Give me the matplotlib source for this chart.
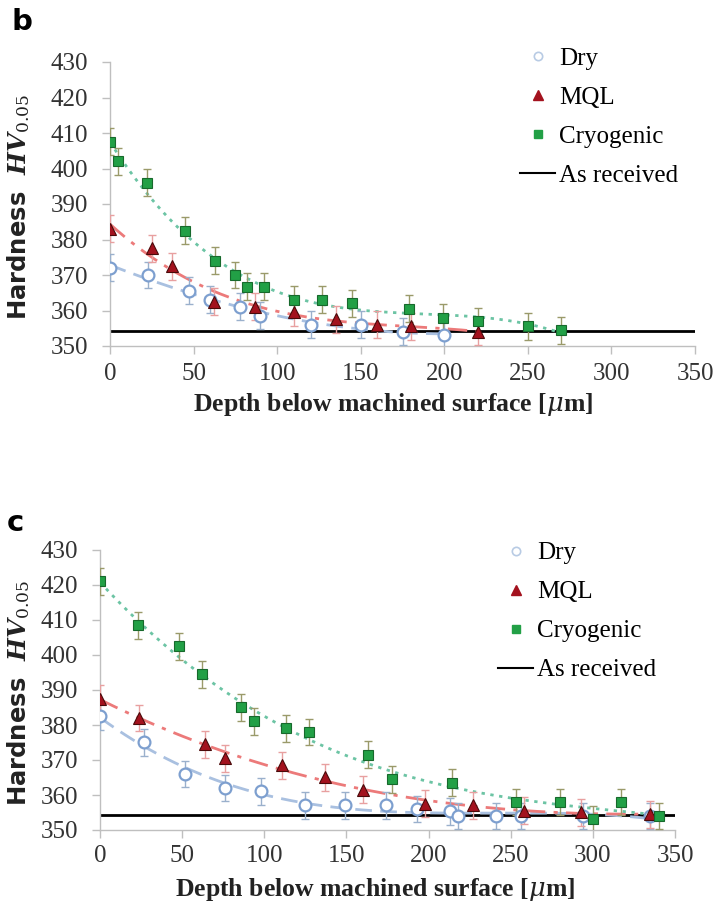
import numpy as np
import matplotlib
matplotlib.use("Agg")
import matplotlib.pyplot as plt
from matplotlib.lines import Line2D

plt.rcParams['mathtext.fontset'] = 'dejavuserif'

# panel b
b_dry_x = [0, 23, 47, 60, 78, 90, 120, 150, 175, 200]
b_dry_y = [372, 370, 365.5, 363, 361, 358.5, 356, 356, 354, 353]
b_mql_x = [0, 25, 37, 62, 87, 110, 135, 160, 180, 220]
b_mql_y = [383, 377.5, 372.5, 362.5, 361, 359.5, 357.5, 356, 355.5, 354]
b_cryo_x = [0, 5, 22, 45, 63, 75, 82, 92, 110, 127, 145, 179, 199, 220, 250, 270]
b_cryo_y = [407.5, 402, 396, 382.5, 374, 370, 366.7, 366.7, 363, 363, 362, 360.5,
            358, 357, 355.5, 354.5]
b_received = 354.3

# panel c
c_dry_x = [0, 27, 52, 76, 98, 125, 149, 174, 193, 213, 218, 241, 256, 294, 335]
c_dry_y = [382.5, 375, 366, 362, 361, 357, 357, 357, 356, 355.3, 354, 354, 354, 354, 354]
c_mql_x = [0, 24, 64, 76, 111, 137, 160, 198, 227, 258, 293, 335]
c_mql_y = [387.5, 382, 374.5, 370.5, 368.5, 365, 361.5, 357.5, 357, 355.5, 355, 354.5]
c_cryo_x = [0, 23, 48, 62, 86, 94, 113, 127, 163, 178, 214, 253, 280, 300, 317, 340]
c_cryo_y = [421, 408.5, 402.5, 394.5, 385, 381, 379, 378, 371.5, 364.5, 363.5, 358,
            358, 353, 358, 354]
c_received = 354.2

err = 3.8

dry_col = '#7d9fcf'
mql_col = '#a3121e'
cryo_col = '#22a046'

W, H = 718, 909
fig = plt.figure(figsize=(W / 100, H / 100), dpi=100)

serif = 'Liberation Serif'


def panel(rect, letter, letter_xy, dry, mql, cryo, received, leg_xy, xpad, xlab_xy, ylab_x):
    ax = fig.add_axes(rect)
    series = [
        (dry, dict(marker='o', ms=8.5, mfc='white', mec=dry_col, mew=1.6),
         '#9ab0cc', '#a9c0e0', (0, (6, 3))),
        (mql, dict(marker='^', ms=9, mfc=mql_col, mec='#4a0a0a', mew=0.8),
         '#e8a0a0', '#ec7a7a', (0, (7, 3, 1.5, 3))),
        (cryo, dict(marker='s', ms=7.5, mfc=cryo_col, mec='#17692c', mew=0.8),
         '#9a9a6a', '#6cc4a4', (0, (1.2, 2))),
    ]
    for (xs, ys), mk, ecol, tcol, ls in series:
        xs = np.array(xs, dtype=float)
        ys = np.array(ys, dtype=float)
        coef = np.polyfit(xs, ys, 3)
        xf = np.linspace(0, xs.max(), 200)
        ax.plot(xf, np.polyval(coef, xf), color=tcol, lw=2, ls=ls, zorder=2)
        ax.errorbar(xs, ys, yerr=err, fmt='none', ecolor=ecol, elinewidth=1,
                    capsize=3, capthick=1, zorder=3)
        ax.plot(xs, ys, ls='none', zorder=4, **mk)
    ax.plot([0, 350], [received, received], color='black', lw=2, zorder=1)

    ax.set_xlim(0, 350)
    ax.set_ylim(350, 430)
    ax.set_xticks(range(0, 351, 50))
    ax.set_yticks(range(350, 431, 10))
    for s in ['top', 'right']:
        ax.spines[s].set_visible(False)
    for s in ['left', 'bottom']:
        ax.spines[s].set_color('#bfbfbf')
        ax.spines[s].set_linewidth(1)
    ax.tick_params(colors='#bfbfbf', length=6, width=1, labelcolor='#333333',
                   labelsize=18, pad=10)
    ax.tick_params(axis='x', pad=xpad)
    for lab in ax.get_xticklabels() + ax.get_yticklabels():
        lab.set_fontfamily(serif)

    ax.set_xlabel(r'Depth below machined surface [$\mathit{\mu}$m]',
                  fontfamily=serif, fontweight='bold', fontsize=18.5,
                  color='#222222')
    ax.xaxis.set_label_coords(*xlab_xy)
    ax.set_ylabel(r'Hardness  $\mathbfit{HV}_{\mathit{0.05}}$', fontsize=17.5,
                  fontweight='bold', color='#222222')
    ax.yaxis.set_label_coords(ylab_x, 0.49)

    fig.text(letter_xy[0] / W, 1 - letter_xy[1] / H, letter, fontsize=21,
             fontweight='bold', ha='center', va='center')

    handles = [
        Line2D([], [], ls='none', marker='o', ms=6, mfc='white', mec='#b8cbe4', mew=1.2),
        Line2D([], [], ls='none', marker='^', ms=7, mfc=mql_col, mec=mql_col),
        Line2D([], [], ls='none', marker='s', ms=5.5, mfc=cryo_col, mec=cryo_col),
        Line2D([], [], color='black', lw=1.5),
    ]
    labels = ['Dry', 'MQL', 'Cryogenic', 'As received']
    fig.legend(handles, labels, loc='upper left',
               bbox_to_anchor=(leg_xy[0] / W, 1 - leg_xy[1] / H),
               frameon=False, prop={'family': serif, 'size': 18},
               handlelength=1.4, handletextpad=0.15, labelspacing=0.66,
               borderpad=0, borderaxespad=0)
    return ax


panel([110 / W, 1 - 346 / H, 585 / W, 284 / H], 'b', (22, 22),
      (b_dry_x, b_dry_y), (b_mql_x, b_mql_y), (b_cryo_x, b_cryo_y),
      b_received, (520, 47), 6, (0.484, -0.16), -0.133)
panel([100 / W, 1 - 830 / H, 575 / W, 280 / H], 'c', (15, 523),
      (c_dry_x, c_dry_y), (c_mql_x, c_mql_y), (c_cryo_x, c_cryo_y),
      c_received, (498, 542), 5, (0.478, -0.165), -0.118)

fig.savefig('out.png', dpi=100)
